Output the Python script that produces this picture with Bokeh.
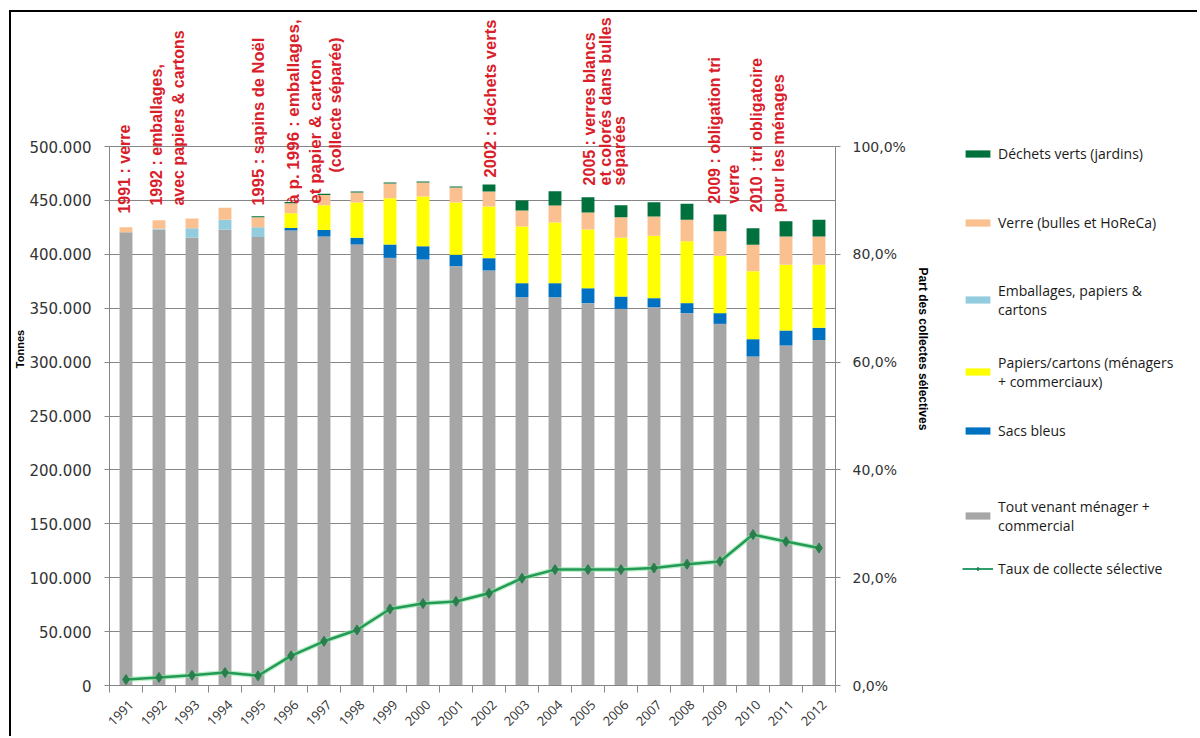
import math
from bokeh.plotting import figure
from bokeh.layouts import row, column
from bokeh.models import (Range1d, LinearAxis, FixedTicker, Legend, LegendItem,
                          Label, ColumnDataSource, Div)
from bokeh.embed import file_html
from bokeh.resources import INLINE

# ---------------- data ----------------
years = [str(y) for y in range(1991, 2013)]
# tonnes (thousands)
tout_venant = [420.5, 422.7, 415.3, 422.7, 416.0, 422.0, 416.5, 409.0, 396.7, 395.2, 389.0,
               385.0, 360.2, 360.2, 354.7, 349.4, 350.9, 345.4, 335.5, 305.2, 315.4, 320.6]
sacs_bleus = [0, 0, 0, 0, 0, 2.5, 6.0, 6.3, 12.3, 12.3, 10.5,
              11.4, 13.0, 13.0, 13.8, 11.4, 8.4, 9.3, 9.9, 16.1, 13.9, 11.2]
papiers = [0, 0, 0, 0, 0, 13.6, 23.1, 32.7, 43.0, 46.1, 48.5,
           47.9, 52.6, 56.3, 54.5, 54.5, 57.8, 57.5, 53.2, 63.0, 60.9, 58.4]
emballages = [0, 1.0, 8.9, 9.3, 9.2, 0, 0, 0, 0, 0, 0,
              0, 0, 0, 0, 0, 0, 0, 0, 0, 0, 0]
verre = [4.7, 8.0, 9.0, 11.1, 9.2, 9.3, 9.5, 9.3, 13.6, 13.0, 14.0,
         13.9, 14.8, 15.7, 15.8, 19.1, 17.9, 19.8, 22.8, 24.5, 26.3, 26.3]
dechets_verts = [0, 0, 0, 0, 1.0, 1.0, 1.0, 1.0, 1.0, 1.0, 1.0,
                 6.5, 9.3, 13.3, 14.2, 11.2, 13.3, 14.8, 15.5, 15.4, 14.2, 15.5]
taux = [1.1, 1.5, 1.9, 2.4, 1.8, 5.5, 8.2, 10.3, 14.2, 15.2, 15.6,
        17.1, 19.9, 21.5, 21.5, 21.5, 21.8, 22.5, 23.0, 28.0, 26.7, 25.5]

series_names = ["Tout venant ménager +\ncommercial", "Sacs bleus",
                "Papiers/cartons (ménagers\n+ commerciaux)", "Emballages, papiers &\ncartons",
                "Verre (bulles et HoReCa)", "Déchets verts (jardins)"]
line_name = "Taux de collecte sélective"
colors = ["#a6a6a6", "#0070c0", "#ffff00", "#93cddd", "#fac090", "#00703c"]

y_ticks = [0, 50000, 100000, 150000, 200000, 250000, 300000, 350000, 400000, 450000, 500000]
y_tick_labels = ["0", "50.000", "100.000", "150.000", "200.000", "250.000",
                 "300.000", "350.000", "400.000", "450.000", "500.000"]
pct_ticks = [0, 20, 40, 60, 80, 100]
pct_tick_labels = ["0,0%", "20,0%", "40,0%", "60,0%", "80,0%", "100,0%"]

annotations = [
    (1991, ["1991 : verre"]),
    (1992, ["1992 : emballages,", "avec papiers & cartons"]),
    (1995, ["1995 : sapins de Noël"]),
    (1996, ["à p. 1996 : emballages,", "et papier & carton", "(collecte séparée)"]),
    (2002, ["2002 : déchets verts"]),
    (2005, ["2005 : verres blancs", "et colorés dans bulles", "séparées"]),
    (2009, ["2009 : obligation  tri", "verre"]),
    (2010, ["2010 : tri obligatoire", "pour les ménages"]),
]
# layout of annotation lines: (x offset px from bar centre, bottom y in tonnes, font px)
ann_layout = [
    [(-2, 437800, 16)],
    [(-3, 445200, 16), (19, 445200, 16)],
    [(0, 445200, 16.5)],
    [(2, 447000, 17), (24, 447000, 17), (44, 475800, 16)],
    [(1, 471300, 16.5)],
    [(1, 463900, 16), (17, 463900, 16), (31, 463900, 16)],
    [(-6, 447000, 16), (13, 447000, 16)],
    [(3, 438700, 16.3), (25, 438700, 16.3)],
]

# ---------------- geometry (image px) ----------------
MX, MY = 9, 10                  # page offset of the black border
BW = 2                          # border width
OX, OY = MX + BW, MY + BW       # canvas origin inside the border
IMG_W, IMG_H = 1200, 738
FRAME_L, FRAME_R, FRAME_B = 103, 835, 685
PX_PER_500K = 539.0
SPLIT = 948                     # where the legend panel starts

WM = SPLIT - OX
WL = IMG_W - SPLIT - 3
H = IMG_H - OY - 2
frame_h = FRAME_B - OY
y_top = 500000 * frame_h / PX_PER_500K

# ---------------- main figure ----------------
n = len(years)
xs = [i + 0.5 for i in range(n)]
src = ColumnDataSource(dict(
    x=xs,
    tv=[v * 1000 for v in tout_venant],
    sb=[v * 1000 for v in sacs_bleus],
    pc=[v * 1000 for v in papiers],
    em=[v * 1000 for v in emballages],
    ve=[v * 1000 for v in verre],
    dv=[v * 1000 for v in dechets_verts],
    taux=taux,
))

p = figure(width=WM, height=H, output_backend="svg", toolbar_location=None,
           x_range=Range1d(0, n), y_range=Range1d(0, y_top),
           min_border_left=FRAME_L - OX, min_border_right=SPLIT - FRAME_R, min_border_top=0,
           min_border_bottom=H - frame_h)
p.outline_line_color = None
p.background_fill_color = "white"
p.border_fill_color = "white"
p.extra_y_ranges = {"pct": Range1d(0, 100 * y_top / 500000)}

stack_cols = ["tv", "sb", "pc", "em", "ve", "dv"]
bars = p.vbar_stack(stack_cols, x="x", width=0.39, color=colors, line_color=None, source=src)

p.line("x", "taux", source=src, y_range_name="pct", color="#8fe3a5",
       line_width=5, line_alpha=0.6)
p.line("x", "taux", source=src, y_range_name="pct", color="#239a55", line_width=2.5)
p.scatter("x", "taux", source=src, y_range_name="pct", marker="diamond",
          size=10, fill_color="#2a7d4c", line_color="#2a7d4c")

font = "Open Sans"
tick_font = "DejaVu Sans"
xa = p.xaxis[0]
label_pos = [i + 0.66 for i in range(n)]
xa.ticker = FixedTicker(ticks=label_pos, minor_ticks=list(range(n + 1)))
xa.major_label_overrides = {x: y for x, y in zip(label_pos, years)}
xa.major_label_orientation = math.pi / 4
xa.major_tick_line_color = None
xa.minor_tick_line_color = "#868686"
xa.minor_tick_in = 0
xa.minor_tick_out = 7
xa.axis_line_color = "#868686"
xa.major_label_text_font = font
xa.major_label_text_font_size = "13px"
xa.major_label_text_color = "#333333"
xa.major_label_standoff = 10

ya = p.yaxis[0]
ya.bounds = (0, 500000)
ya.ticker = FixedTicker(ticks=y_ticks, minor_ticks=[])
ya.major_label_overrides = {t: l for t, l in zip(y_ticks, y_tick_labels)}
ya.axis_line_color = "#868686"
ya.major_tick_line_color = "#868686"
ya.major_tick_in = 4
ya.major_tick_out = 5
ya.major_label_standoff = 13
ya.major_label_text_font = tick_font
ya.major_label_text_font_size = "15px"
ya.major_label_text_color = "#333333"
ya.axis_label = "Tonnes"
ya.axis_label_text_font = "Liberation Sans"
ya.axis_label_text_font_style = "bold"
ya.axis_label_text_font_size = "11px"
ya.axis_label_text_color = "#000000"
ya.axis_label_standoff = 0

ra = LinearAxis(y_range_name="pct", ticker=FixedTicker(ticks=pct_ticks, minor_ticks=[]))
ra.bounds = (0, 100)
ra.major_label_overrides = {t: l for t, l in zip(pct_ticks, pct_tick_labels)}
ra.axis_line_color = "#868686"
ra.major_tick_line_color = "#868686"
ra.major_tick_in = 0
ra.major_tick_out = 5
ra.major_label_standoff = 12
ra.major_label_text_font = tick_font
ra.major_label_text_font_size = "14px"
ra.major_label_text_color = "#333333"
ra.axis_label = "Part des collectes sélectives"
ra.axis_label_text_font = "Liberation Sans"
ra.axis_label_text_font_style = "bold"
ra.axis_label_text_font_size = "12px"
ra.axis_label_text_color = "#000000"
ra.axis_label_standoff = 7
p.add_layout(ra, "right")

p.xgrid.grid_line_color = None
p.ygrid.ticker = FixedTicker(ticks=y_ticks)
p.ygrid.grid_line_color = "#868686"
p.ygrid.grid_line_width = 1

for (yr, lines), lay in zip(annotations, ann_layout):
    cx = years.index(str(yr)) + 0.5
    for txt, (dx, yb, fs) in zip(lines, lay):
        p.add_layout(Label(x=cx, y=yb, x_offset=dx, text=txt, angle=math.pi / 2,
                           text_align="left", text_baseline="middle",
                           text_font="Liberation Sans", text_font_style="bold",
                           text_font_size=f"{fs}px", text_color="#d9202a"))

# ---------------- legend figure ----------------
q = figure(width=WL, height=H, output_backend="svg", toolbar_location=None,
           x_range=Range1d(-1000, -999), y_range=Range1d(-1000, -999),
           x_axis_location=None, y_axis_location=None,
           min_border_left=0, min_border_right=0, min_border_top=0, min_border_bottom=0)
q.outline_line_color = None
q.grid.visible = False
q.border_fill_color = "white"

leg_bars = [q.vbar(x="x", top=col, width=0.39, color=c, line_color=None, source=src,
                   visible=False) for col, c in zip(stack_cols, colors)]
lq = q.line("x", "taux", source=src, color="#2e9e6e", line_width=2, visible=False)
mq = q.scatter("x", "taux", source=src, marker="diamond", size=8,
               fill_color="#2a7d4c", line_color="#2a7d4c", visible=False)

# (label, renderers, image y of first text line, number of lines)
legend_entries = [
    (series_names[5], [leg_bars[5]], 153, 1),
    (series_names[4], [leg_bars[4]], 222, 1),
    (series_names[3], [leg_bars[3]], 287, 2),
    (series_names[2], [leg_bars[2]], 359, 2),
    (series_names[1], [leg_bars[1]], 430, 1),
    (series_names[0], [leg_bars[0]], 503, 2),
    (line_name, [lq, mq], 568, 1),
]
LH = 21
for label, rends, yc, nl in legend_entries:
    bottom = yc - LH / 2 + LH * nl
    lg = Legend(items=[LegendItem(label=label, renderers=rends)],
                location=(962 - SPLIT, FRAME_B - bottom),
                padding=0, margin=0, spacing=0, border_line_color=None,
                background_fill_alpha=0, glyph_width=31, glyph_height=9,
                label_height=LH, label_standoff=5,
                label_text_font=font, label_text_font_size="14px",
                label_text_line_height=1.55,
                label_text_color="#1a1a1a", inactive_fill_alpha=0)
    q.add_layout(lg, "center")

top_bar = Div(text="", width=IMG_W - MX - 3, height=BW, margin=0,
              styles={"background-color": "#000"})
left_bar = Div(text="", width=BW, height=H, margin=0, styles={"background-color": "#000"})
layout = column(top_bar, row(left_bar, p, q),
                styles={"margin-left": f"{MX}px", "margin-top": f"{MY}px"})
open("out.html", "w").write(file_html(layout, INLINE))
